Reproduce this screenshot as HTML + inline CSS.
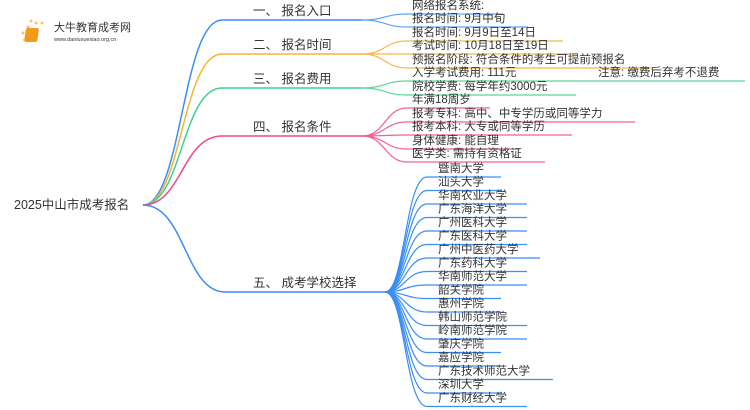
<!DOCTYPE html>
<html><head><meta charset="utf-8"><style>
html,body{margin:0;padding:0;background:#fff;}
svg{display:block;}
text{font-family:"Liberation Sans","Noto Sans CJK SC",sans-serif;fill:#333;}
</style></head><body>
<svg width="750" height="410" viewBox="0 0 750 410" xmlns="http://www.w3.org/2000/svg">
<g>
<circle cx="28" cy="27" r="1.5" fill="#f9c55a"/><circle cx="31" cy="21" r="1.5" fill="#f9c55a"/><circle cx="36" cy="23" r="1.5" fill="#f9c55a"/><circle cx="23" cy="33" r="1.5" fill="#f9c55a"/><circle cx="24" cy="40" r="1.2" fill="#f9c55a"/><circle cx="42" cy="23" r="1.5" fill="#f9c55a"/>
<rect x="30" y="28" width="13" height="14" rx="2" fill="#f39a1c" transform="skewX(-8)"/>
<text x="54" y="31" font-size="11" fill="#444">大牛教育成考网</text>
<text x="54" y="41" font-size="5.5" fill="#777">www.daniuxuexiao.org.cn</text>
</g>
<text x="14" y="209" font-size="12.5">2025中山市成考报名</text>
<g fill="none" stroke-width="1.5">
<path d="M143 205 C182 205 182 20 222 20 H362" stroke="#3a8ef6"/>
<path d="M143 205 C182 205 182 54 222 54 H362" stroke="#f5b335"/>
<path d="M143 205 C182 205 182 88 222 88 H362" stroke="#3fcf8e"/>
<path d="M143 205 C182 205 182 136 222 136 H362" stroke="#f0468e"/>
<path d="M143 205 C185 205 185 292 225 292 H385" stroke="#3a8ef6"/>
</g>
<g font-size="12.5">
<text x="253" y="15">一、 报名入口</text>
<text x="253" y="49">二、 报名时间</text>
<text x="253" y="83">三、 报名费用</text>
<text x="253" y="131">四、 报名条件</text>
<text x="253" y="287">五、 成考学校选择</text>
</g>
<g fill="none" stroke-width="1.2">
<g stroke="#5fa3f7">
<path d="M362 20 C385 20 385 14 407 14 H503"/>
<path d="M362 20 C385 20 385 27 407 27 H528"/>
</g>
<g stroke="#f5b94a">
<path d="M362 54 C385 54 385 41 407 41 H563"/>
<path d="M362 54 C385 54 385 54 407 54 H578"/>
<path d="M362 54 C385 54 385 68 407 68 H652"/>
</g>
<g stroke="#5dd59c">
<path d="M362 88 C385 88 385 81 407 81 H745"/>
<path d="M362 88 C385 88 385 95 407 95 H576"/>
</g>
<g stroke="#f0609c">
<path d="M362 136 C385 136 385 108 407 108 H490"/>
<path d="M362 136 C385 136 385 122 407 122 H635"/>
<path d="M362 136 C385 136 385 135 407 135 H572"/>
<path d="M362 136 C385 136 385 149 407 149 H520"/>
<path d="M362 136 C385 136 385 162 407 162 H545"/>
</g>
<g stroke="#3a8ef6">
<path d="M385 292 C405 292 405 177 427 177 H501"/>
<path d="M385 292 C405 292 405 190.5 427 190.5 H501"/>
<path d="M385 292 C405 292 405 204 427 204 H527"/>
<path d="M385 292 C405 292 405 217.5 427 217.5 H527"/>
<path d="M385 292 C405 292 405 231 427 231 H527"/>
<path d="M385 292 C405 292 405 244.5 427 244.5 H527"/>
<path d="M385 292 C405 292 405 258 427 258 H540"/>
<path d="M385 292 C405 292 405 271.5 427 271.5 H527"/>
<path d="M385 292 C405 292 405 285 427 285 H527"/>
<path d="M385 292 C405 292 405 298.5 427 298.5 H501"/>
<path d="M385 292 C405 292 405 312 427 312 H501"/>
<path d="M385 292 C405 292 405 325.5 427 325.5 H527"/>
<path d="M385 292 C405 292 405 339 427 339 H527"/>
<path d="M385 292 C405 292 405 352.5 427 352.5 H501"/>
<path d="M385 292 C405 292 405 366 427 366 H501"/>
<path d="M385 292 C405 292 405 379.5 427 379.5 H553"/>
<path d="M385 292 C405 292 405 393 427 393 H501"/>
<path d="M385 292 C405 292 405 406.5 427 406.5 H527"/>
</g>
</g>
<g font-size="11.5">
<text x="412" y="9">网络报名系统:</text>
<text x="412" y="22">报名时间: 9月中旬</text>
<text x="412" y="36">报名时间: 9月9日至14日</text>
<text x="412" y="49">考试时间: 10月18日至19日</text>
<text x="412" y="63">预报名阶段: 符合条件的考生可提前预报名</text>
<text x="412" y="76">入学考试费用: 111元</text>
<text x="598" y="76">注意: 缴费后弃考不退费</text>
<text x="412" y="90">院校学费: 每学年约3000元</text>
<text x="412" y="103">年满18周岁</text>
<text x="412" y="117">报考专科: 高中、中专学历或同等学力</text>
<text x="412" y="130">报考本科: 大专或同等学历</text>
<text x="412" y="144">身体健康: 能自理</text>
<text x="412" y="157">医学类: 需持有资格证</text>
</g>
<g font-size="11.5">
<text x="438" y="172">暨南大学</text>
<text x="438" y="185.5">汕头大学</text>
<text x="438" y="199">华南农业大学</text>
<text x="438" y="212.5">广东海洋大学</text>
<text x="438" y="226">广州医科大学</text>
<text x="438" y="239.5">广东医科大学</text>
<text x="438" y="253">广州中医药大学</text>
<text x="438" y="266.5">广东药科大学</text>
<text x="438" y="280">华南师范大学</text>
<text x="438" y="293.5">韶关学院</text>
<text x="438" y="307">惠州学院</text>
<text x="438" y="320.5">韩山师范学院</text>
<text x="438" y="334">岭南师范学院</text>
<text x="438" y="347.5">肇庆学院</text>
<text x="438" y="361">嘉应学院</text>
<text x="438" y="374.5">广东技术师范大学</text>
<text x="438" y="388">深圳大学</text>
<text x="438" y="401.5">广东财经大学</text>
</g>
</svg>
</body></html>
